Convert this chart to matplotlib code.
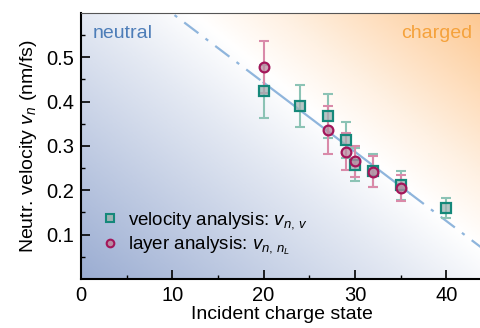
import numpy as np
import matplotlib
matplotlib.use("Agg")
import matplotlib.pyplot as plt
import matplotlib as mpl
from matplotlib.colors import LinearSegmentedColormap
from matplotlib.lines import Line2D

# data
q_vel = [20, 24, 27, 29, 30, 32, 35, 40]
v_vel = [0.423, 0.390, 0.368, 0.313, 0.258, 0.244, 0.211, 0.160]
e_vel = [0.060, 0.048, 0.050, 0.040, 0.038, 0.037, 0.032, 0.022]

q_lay = [20, 27, 29, 30, 32, 35]
v_lay = [0.478, 0.336, 0.287, 0.266, 0.242, 0.205]
e_lay = [0.058, 0.055, 0.042, 0.035, 0.035, 0.030]

fit_a, fit_b = 0.755, -0.0156   # linear guide v = a + b*q

mpl.rcParams.update({
    'font.family': 'Liberation Sans',
    'mathtext.fontset': 'custom',
    'mathtext.rm': 'Liberation Sans',
    'mathtext.it': 'Liberation Sans:italic',
    'font.size': 13,
    'xtick.direction': 'in',
    'ytick.direction': 'in',
})

fig = plt.figure(figsize=(4.81, 3.28), dpi=100)
ax = fig.add_axes([0.1684, 0.1494, 0.8352, 0.811])
xmax, ymax = 44, 0.6

# background gradient blue -> white -> orange
cmap = LinearSegmentedColormap.from_list('bg', [
    (0.0, '#9badd2'), (0.45, '#e4e9f3'), (0.6, '#ffffff'),
    (0.72, '#fff1e3'), (1.0, '#fdc892')])
u, w = np.meshgrid(np.linspace(0, 1, 300), np.linspace(0, 1, 200))
t = 0.55 * u + 0.45 * w
ax.imshow(t, cmap=cmap, origin='lower', extent=(0, xmax, 0, ymax),
          aspect='auto', zorder=0, vmin=0, vmax=1)

# guide line: dash-dot outside the data range, solid inside
line_c = '#8fb5dc'
qa = np.array([0, 20])
qb = np.array([20, 36])
qc = np.array([36, xmax])
ax.plot(qa, fit_a + fit_b * qa, color=line_c, lw=1.6, ls=(0, (8, 4, 1.5, 4)), zorder=1)
ax.plot(qb, fit_a + fit_b * qb, color=line_c, lw=1.6, zorder=1)
ax.plot(qc, fit_a + fit_b * qc, color=line_c, lw=1.6, ls=(0, (8, 4, 1.5, 4)), zorder=1)

teal, teal_l = '#15887a', '#8cc3b5'
rose, rose_l = '#a3165a', '#d98aa9'

ax.errorbar(q_vel, v_vel, yerr=e_vel, fmt='none', ecolor=teal_l,
            elinewidth=1.5, capsize=3.5, capthick=1.5, zorder=2)
ax.errorbar(q_lay, v_lay, yerr=e_lay, fmt='none', ecolor=rose_l,
            elinewidth=1.5, capsize=3.5, capthick=1.5, zorder=3)
ax.plot(q_vel, v_vel, 's', ms=7, mfc=(0.62, 0.70, 0.70, 0.75), mec=teal,
        mew=1.6, ls='none', zorder=4)
ax.plot(q_lay, v_lay, 'o', ms=7, mfc=(0.72, 0.55, 0.63, 0.75), mec=rose,
        mew=1.6, ls='none', zorder=5)

ax.set_xlim(0, xmax)
ax.set_ylim(0, ymax)
ax.set_xticks([0, 10, 20, 30, 40])
ax.set_xticks(np.arange(5, 45, 10), minor=True)
ax.set_yticks([0.1, 0.2, 0.3, 0.4, 0.5])
ax.set_yticks(np.arange(0.05, 0.6, 0.1), minor=True)
ax.tick_params(which='major', length=6.5, width=1.2, labelsize=14.5, pad=5)
ax.tick_params(which='minor', length=3, width=1.0)
for s in ['left', 'bottom']:
    ax.spines[s].set_linewidth(1.5)
ax.spines['top'].set_color('#555555')
ax.spines['right'].set_visible(False)

ax.set_xlabel('Incident charge state', fontsize=14, labelpad=1)
ax.set_ylabel('Neutr. velocity $v_n$ (nm/fs)', fontsize=14, labelpad=5)

ax.text(0.03, 0.955, 'neutral', transform=ax.transAxes, color='#4d7db8',
        fontsize=14, va='top', ha='left')
ax.text(0.975, 0.955, 'charged', transform=ax.transAxes, color='#f5a23c',
        fontsize=14, va='top', ha='right')

handles = [
    Line2D([], [], marker='s', ms=5.5, mfc=(0.62, 0.70, 0.70), mec=teal, mew=1.5, ls='none'),
    Line2D([], [], marker='o', ms=5.5, mfc=(0.72, 0.55, 0.63), mec=rose, mew=1.5, ls='none'),
]
ax.legend(handles, ['velocity analysis: $v_{n,\\,v}$',
                    'layer analysis: $v_{n,\\,n_L}$'],
          loc='lower left', bbox_to_anchor=(0.025, 0.055), frameon=False,
          fontsize=13.5, handletextpad=0.35, labelspacing=0.2, borderaxespad=0,
          handlelength=1.2)

fig.savefig('out.png', dpi=100)
